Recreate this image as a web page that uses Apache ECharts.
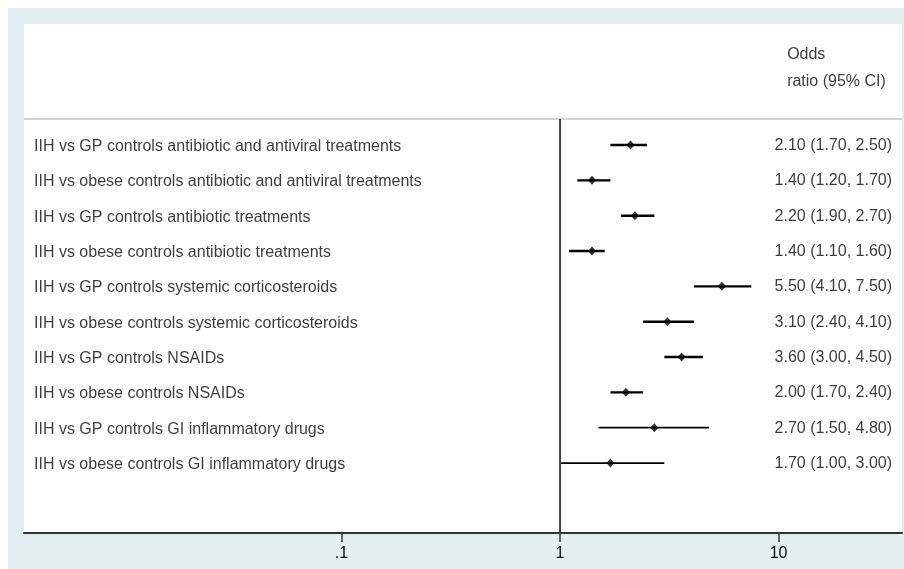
<!DOCTYPE html>
<html>
<head>
<meta charset="utf-8">
<script src="https://cdn.jsdelivr.net/npm/echarts@6/dist/echarts.min.js"></script>
<style>
  html, body { margin: 0; padding: 0; background: #ffffff; }
  #chart { width: 904px; height: 569px; }
</style>
</head>
<body>
<div id="chart"></div>
<script>
// Forest plot: odds ratios with 95% confidence intervals (log scale)
const comparisons = [
  'IIH vs GP controls antibiotic and antiviral treatments',
  'IIH vs obese controls antibiotic and antiviral treatments',
  'IIH vs GP controls antibiotic treatments',
  'IIH vs obese controls antibiotic treatments',
  'IIH vs GP controls systemic corticosteroids',
  'IIH vs obese controls systemic corticosteroids',
  'IIH vs GP controls NSAIDs',
  'IIH vs obese controls NSAIDs',
  'IIH vs GP controls GI inflammatory drugs',
  'IIH vs obese controls GI inflammatory drugs'
];
const oddsRatio = [2.10, 1.40, 2.20, 1.40, 5.50, 3.10, 3.60, 2.00, 2.70, 1.70];
const ciLow     = [1.70, 1.20, 1.90, 1.10, 4.10, 2.40, 3.00, 1.70, 1.50, 1.00];
const ciHigh    = [2.50, 1.70, 2.70, 1.60, 7.50, 4.10, 4.50, 2.40, 4.80, 3.00];
const xTicks = [0.1, 1, 10];
const headerLines = ['Odds', 'ratio (95% CI)'];

// Layout of the plot region (axis units)
const xMin = 0.003524, xMax = 36.7;       // log-axis extent
const yTop = -3.425, yBottom = 10.98;     // row-axis extent (rows 0..9)
const headerRows = [-2.547, -1.783];
const separatorRow = -0.736;
const headerX = 10.94;

const FONT = '"Liberation Sans", Arial, Helvetica, sans-serif';
const TEXT = '#0a0a0a';
const FS = 16;

const rows = comparisons.map((_, i) => i);
const fmt = v => v.toFixed(2);

const chart = echarts.init(document.getElementById('chart'), null, { renderer: 'canvas' });

chart.setOption({
  animation: false,
  backgroundColor: '#ffffff',
  textStyle: { fontFamily: FONT },
  graphic: [{
    type: 'rect', z: -10, silent: true,
    shape: { x: 8, y: 8, width: 896, height: 561 },
    style: { fill: '#e3eff0' }
  }],
  grid: {
    left: 24, right: 2, top: 24, bottom: 36,
    show: true, backgroundColor: '#ffffff', borderWidth: 0
  },
  xAxis: {
    type: 'log', min: xMin, max: xMax,
    axisLine: { show: true, onZero: false, lineStyle: { color: '#333333', width: 2 } },
    axisTick: { show: true, customValues: xTicks, length: 9, lineStyle: { color: '#333333', width: 1.5 } },
    axisLabel: {
      customValues: xTicks, margin: 13, fontSize: FS, color: TEXT, fontFamily: FONT,
      formatter: v => (v < 1 ? String(v).replace(/^0/, '') : String(v))
    },
    splitLine: { show: false }, minorTick: { show: false }
  },
  yAxis: {
    type: 'value', inverse: true, min: yTop, max: yBottom,
    show: false, splitLine: { show: false }
  },
  series: [
    // header separator
    {
      type: 'line', symbol: 'none', silent: true,
      data: [[xMin, separatorRow], [xMax, separatorRow]],
      lineStyle: { color: '#c4c4c4', width: 1.5 }
    },
    // null line at OR = 1
    {
      type: 'line', symbol: 'none', silent: true,
      data: [[1, separatorRow], [1, yBottom]],
      lineStyle: { color: '#444444', width: 2 }
    },
    // confidence intervals
    {
      type: 'custom', silent: true,
      data: rows.map(i => [ciLow[i], ciHigh[i], i]),
      encode: { x: [0, 1], y: 2 },
      renderItem: (params, api) => {
        const y = api.value(2);
        const p1 = api.coord([api.value(0), y]);
        const p2 = api.coord([api.value(1), y]);
        return {
          type: 'line',
          shape: { x1: p1[0], y1: p1[1], x2: p2[0], y2: p2[1] },
          style: { stroke: '#000000', lineWidth: y >= 8 ? 1.8 : 2.4 }
        };
      },
      z: 3
    },
    // point estimates
    {
      type: 'scatter', symbol: 'diamond', symbolSize: [8, 9],
      itemStyle: { color: '#000000' },
      data: rows.map(i => [oddsRatio[i], i]),
      z: 4
    },
    // comparison labels on the left
    {
      type: 'scatter', symbolSize: 0, silent: true, clip: false,
      data: rows.map(i => [xMin, i]),
      label: {
        show: true, position: 'right', distance: 10, offset: [0, 1.5],
        fontSize: FS, color: TEXT, fontFamily: FONT,
        formatter: p => comparisons[p.dataIndex]
      }
    },
    // OR (95% CI) text on the right
    {
      type: 'scatter', symbolSize: 0, silent: true, clip: false,
      data: rows.map(i => [xMax, i]),
      label: {
        show: true, position: 'left', distance: 10, offset: [0, 0.5],
        fontSize: FS, color: TEXT, fontFamily: FONT,
        formatter: p => {
          const i = p.dataIndex;
          return `${fmt(oddsRatio[i])} (${fmt(ciLow[i])}, ${fmt(ciHigh[i])})`;
        }
      }
    },
    // column header
    {
      type: 'scatter', symbolSize: 0, silent: true, clip: false,
      data: headerRows.map(r => [headerX, r]),
      label: {
        show: true, position: 'right', distance: 0,
        fontSize: FS, color: TEXT, fontFamily: FONT,
        formatter: p => headerLines[p.dataIndex]
      }
    }
  ]
});
</script>
</body>
</html>
